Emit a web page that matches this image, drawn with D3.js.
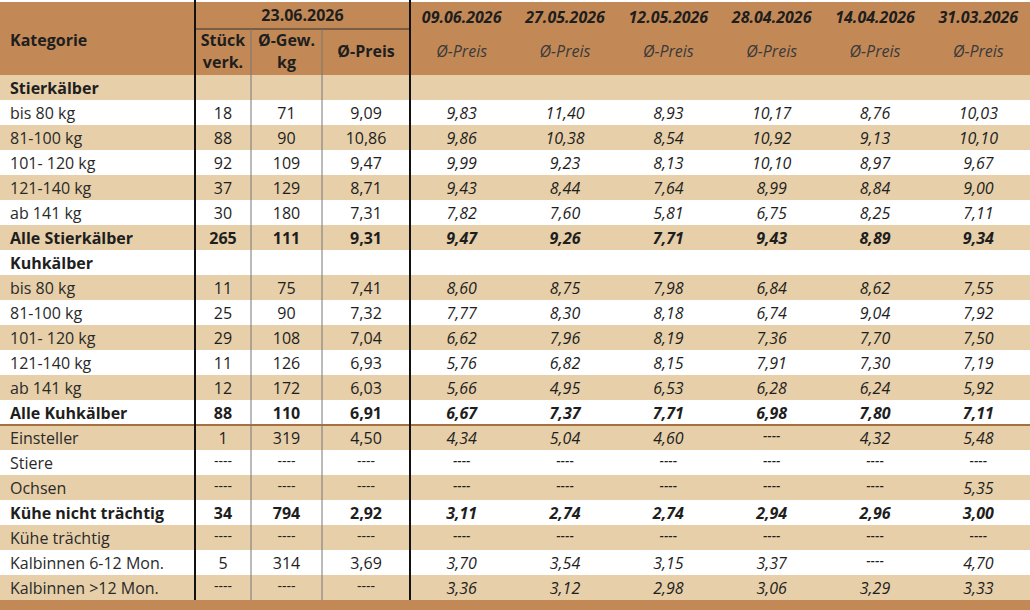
<!DOCTYPE html>
<html><head><meta charset="utf-8">
<script src="https://cdn.jsdelivr.net/npm/d3@7"></script>
<style>body{margin:0;background:#fff}text{font-family:"Open Sans",sans-serif}</style>
</head><body>
<script>
// Zeilen
var kategorien = ['Stierkälber','bis 80 kg','81-100 kg','101- 120 kg','121-140 kg','ab 141 kg','Alle Stierkälber',
  'Kuhkälber','bis 80 kg','81-100 kg','101- 120 kg','121-140 kg','ab 141 kg','Alle Kuhkälber',
  'Einsteller','Stiere','Ochsen','Kühe nicht trächtig','Kühe trächtig','Kalbinnen 6-12 Mon.','Kalbinnen >12 Mon.'];
var fett = [0,6,7,13,17];
var stueck = ['','18','88','92','37','30','265','','11','25','29','11','12','88','1','----','----','34','----','5','----'];
var gewicht = ['','71','90','109','129','180','111','','75','90','108','126','172','110','319','----','----','794','----','314','----'];
var preis = ['','9,09','10,86','9,47','8,71','7,31','9,31','','7,41','7,32','7,04','6,93','6,03','6,91','4,50','----','----','2,92','----','3,69','----'];
var aktuellDatum = '23.06.2026';
var daten = ['09.06.2026','27.05.2026','12.05.2026','28.04.2026','14.04.2026','31.03.2026'];
var p0906 = ['','9,83','9,86','9,99','9,43','7,82','9,47','','8,60','7,77','6,62','5,76','5,66','6,67','4,34','----','----','3,11','----','3,70','3,36'];
var p2705 = ['','11,40','10,38','9,23','8,44','7,60','9,26','','8,75','8,30','7,96','6,82','4,95','7,37','5,04','----','----','2,74','----','3,54','3,12'];
var p1205 = ['','8,93','8,54','8,13','7,64','5,81','7,71','','7,98','8,18','8,19','8,15','6,53','7,71','4,60','----','----','2,74','----','3,15','2,98'];
var p2804 = ['','10,17','10,92','10,10','8,99','6,75','9,43','','6,84','6,74','7,36','7,91','6,28','6,98','----','----','----','2,94','----','3,37','3,06'];
var p1404 = ['','8,76','9,13','8,97','8,84','8,25','8,89','','8,62','9,04','7,70','7,30','6,24','7,80','4,32','----','----','2,96','----','----','3,29'];
var p3103 = ['','10,03','10,10','9,67','9,00','7,11','9,34','','7,55','7,92','7,50','7,19','5,92','7,11','5,48','----','5,35','3,00','----','4,70','3,33'];
var historie = [p0906,p2705,p1205,p2804,p1404,p3103];

var W = 1030, H = 610, headH = 75, dateH = 29;
var brown = '#c28957', beige = '#e6cfa9', ink = '#1e1e1e';
var svg = d3.select('body').append('svg').attr('width', W).attr('height', H);

// Spaltengrenzen
var colX = [0,195,251,322,410];
var x = d3.scaleBand().domain(daten).range([410, W]);
var y = d3.scaleBand().domain(d3.range(kategorien.length)).range([headH, headH + 25 * kategorien.length]);

// Kopf
svg.append('rect').attr('x',0).attr('y',2).attr('width',W).attr('height',headH-2).attr('fill',brown);
svg.append('rect').attr('x',0).attr('y',y.range()[1]).attr('width',W).attr('height',H-y.range()[1]).attr('fill',brown);

// Zeilen
svg.selectAll('rect.row').data(kategorien).join('rect').attr('class','row')
  .attr('x',0).attr('y',(d,i)=>y(i)).attr('width',W).attr('height',y.bandwidth())
  .attr('fill',(d,i)=>i%2===0 ? beige : '#fff');

function txt(xp, yp, s, o) {
  o = o || {};
  svg.append('text').attr('x',xp).attr('y',yp).attr('dy','0.35em')
    .attr('text-anchor',o.anchor||'middle').attr('font-size',o.size||16)
    .attr('font-weight',o.bold?700:400).attr('font-style',o.italic?'italic':'normal')
    .attr('fill',o.fill||ink).text(s);
}

txt(10, 40, 'Kategorie', {anchor:'start', bold:true});
txt((195+410)/2, 15, aktuellDatum, {bold:true});
txt(223, 40, 'Stück', {bold:true});
txt(223, 62, 'verk.', {bold:true});
txt(286.5, 40, 'Ø-Gew.', {bold:true});
txt(286.5, 62, 'kg', {bold:true});
txt(366, 51, 'Ø-Preis', {bold:true});
daten.forEach(d => {
  txt(x(d)+x.bandwidth()/2, 17, d, {bold:true, italic:true});
  txt(x(d)+x.bandwidth()/2, 51, 'Ø-Preis', {italic:true, fill:'#3a3a3a'});
});

kategorien.forEach((k,i) => {
  var b = fett.includes(i), cy = y(i) + y.bandwidth()/2 + 1;
  txt(10, cy, k, {anchor:'start', bold:b, fill: b ? ink : '#2a2a2a'});
  [stueck, gewicht, preis].forEach((arr,j) => {
    var s = arr[i]; if (!s) return;
    txt((colX[j+1]+colX[j+2])/2, s==='----'?cy-2:cy, s, {bold:b, size: s==='----'?14:16});
  });
  historie.forEach((arr,j) => {
    var s = arr[i]; if (!s) return;
    txt(x(daten[j])+x.bandwidth()/2, s==='----'?cy-2:cy, s, {bold:b, italic:true, size: s==='----'?14:16});
  });
});

// Linien
var yEnd = y.range()[1];
svg.append('line').attr('x1',195).attr('x2',410).attr('y1',dateH).attr('y2',dateH).attr('stroke','#333').attr('stroke-width',1);
svg.append('line').attr('x1',0).attr('x2',W).attr('y1',y(14)).attr('y2',y(14)).attr('stroke','#a8703f').attr('stroke-width',2);
[[195,0,'#111',2],[410,0,'#111',2],[251,dateH,'#777',1],[322,dateH,'#777',1]].forEach(l => {
  svg.append('line').attr('x1',l[0]).attr('x2',l[0]).attr('y1',l[1]).attr('y2',yEnd)
    .attr('stroke',l[2]).attr('stroke-width',l[3]);
});
</script>
</body></html>
